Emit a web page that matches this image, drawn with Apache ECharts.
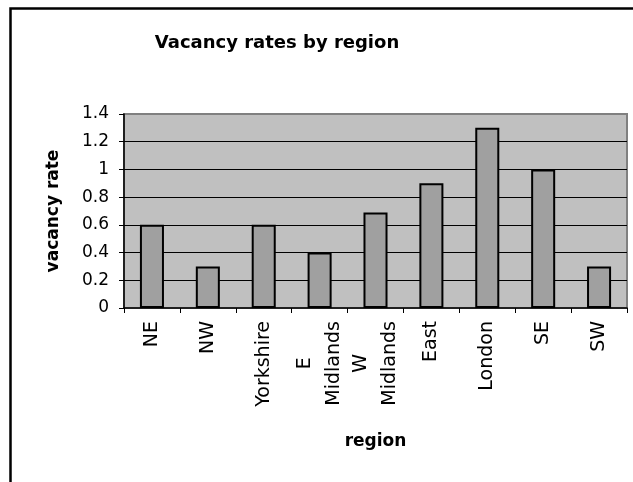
<!DOCTYPE html>
<html>
<head>
<meta charset="utf-8">
<script src="https://cdn.jsdelivr.net/npm/echarts@6/dist/echarts.min.js"></script>
<style>
html,body{margin:0;padding:0;background:#fff;}
#chart{width:633px;height:482px;}
</style>
</head>
<body>
<div id="chart"></div>
<script>
// ---- data ----
const chartTitle = 'Vacancy rates by region';
const xAxisName = 'region';
const yAxisName = 'vacancy rate';
const regions = ['NE', 'NW', 'Yorkshire', 'E\nMidlands', 'W\nMidlands', 'East', 'London', 'SE', 'SW'];
const vacancyRates = [0.6, 0.3, 0.6, 0.4, 0.69, 0.9, 1.3, 1.0, 0.3];
const yTickLabels = ['0', '0.2', '0.4', '0.6', '0.8', '1', '1.2', '1.4'];
const yMin = 0, yMax = 1.4, yStep = 0.2;

const FONT = 'DejaVu Sans';
const chart = echarts.init(document.getElementById('chart'), null, {renderer: 'canvas'});
chart.setOption({
  backgroundColor: '#ffffff',
  animation: false,
  title: {
    text: chartTitle,
    left: 272,
    top: 29,
    textAlign: 'center',
    textStyle: {fontFamily: FONT, fontWeight: 'bold', fontSize: 18, color: '#000'}
  },
  graphic: [{
    type: 'rect',
    shape: {x: 10.5, y: 8.5, width: 700, height: 600},
    style: {fill: 'none', stroke: '#000', lineWidth: 2.5},
    silent: true
  }],
  grid: {
    left: 124, right: 6, top: 114, bottom: 174,
    show: true,
    backgroundColor: '#c0c0c0',
    borderColor: '#808080',
    borderWidth: 2
  },
  xAxis: {
    type: 'category',
    data: regions,
    name: xAxisName,
    nameLocation: 'middle',
    nameGap: 125,
    nameTextStyle: {fontFamily: FONT, fontWeight: 'bold', fontSize: 17, color: '#000'},
    axisLine: {lineStyle: {color: '#000', width: 1.5}},
    axisTick: {show: true, length: 5, lineStyle: {color: '#000'}},
    axisLabel: {
      interval: 0,
      rotate: 90,
      margin: 13,
      formatter: v => v.split('\n').map(s => '{c|' + s + '}').join('\n'),
      rich: {c: {align: 'center', fontFamily: FONT, fontSize: 19, lineHeight: 29, color: '#000'}}
    },
    splitLine: {show: false}
  },
  yAxis: {
    type: 'value',
    min: yMin, max: yMax, interval: yStep,
    name: yAxisName,
    nameLocation: 'middle',
    nameGap: 62,
    nameTextStyle: {fontFamily: FONT, fontWeight: 'bold', fontSize: 17, color: '#000'},
    axisLine: {show: true, lineStyle: {color: '#000', width: 1.5}},
    axisTick: {show: true, length: 5, lineStyle: {color: '#000'}},
    axisLabel: {
      margin: 15,
      fontFamily: FONT, fontSize: 17, color: '#000',
      formatter: v => yTickLabels[Math.round((v - yMin) / yStep)]
    },
    splitLine: {show: true, showMinLine: false, showMaxLine: false, lineStyle: {color: '#000', width: 1}}
  },
  series: [{
    type: 'bar',
    data: vacancyRates,
    barWidth: '43%',
    itemStyle: {color: '#a0a0a0', borderColor: '#000', borderWidth: 2}
  }]
});
</script>
</body>
</html>
